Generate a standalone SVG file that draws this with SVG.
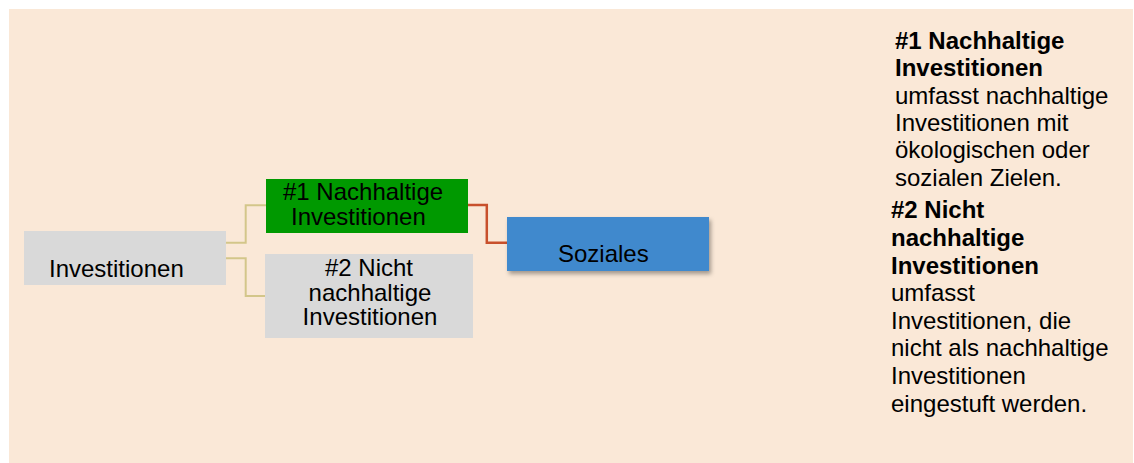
<svg xmlns="http://www.w3.org/2000/svg" width="1134" height="463" viewBox="0 0 1134 463">
<defs>
<style>
.t{font-family:"Liberation Sans",Arial,sans-serif;font-size:24px;fill:#000}
.b{font-weight:bold}
.gray{fill:#D9D9D9}
.tan{fill:none;stroke:#D3C68A;stroke-width:2}
.red{fill:none;stroke:#C8502C;stroke-width:2.5}
</style>
<filter id="sh" x="-10%" y="-20%" width="130%" height="160%">
<feDropShadow dx="2" dy="3" stdDeviation="2" flood-color="#000" flood-opacity="0.35"/>
</filter>
</defs>
<rect x="9" y="9" width="1124" height="454" fill="#FAE8D7"/>
<g id="connectors">
<polyline class="tan" points="226,242.7 245.7,242.7 245.7,205.3 266,205.3"/>
<polyline class="tan" points="226,258.3 245.7,258.3 245.7,296 265,296"/>
<polyline class="red" points="468,205 486.8,205 486.8,242.8 507,242.8"/>
</g>
<g id="node-investitionen">
<rect class="gray" x="24" y="231" width="202" height="54"/>
<text class="t" x="49" y="277">Investitionen</text>
</g>
<g id="node-nachhaltig">
<rect x="266" y="179" width="202" height="54" fill="#009900"/>
<text class="t" x="283" y="200">#1 Nachhaltige</text>
<text class="t" x="291" y="225">Investitionen</text>
</g>
<g id="node-nicht-nachhaltig">
<rect class="gray" x="265" y="254" width="208" height="84"/>
<text class="t" x="369" y="276" text-anchor="middle">#2 Nicht</text>
<text class="t" x="370" y="300.7" text-anchor="middle">nachhaltige</text>
<text class="t" x="370" y="325.3" text-anchor="middle">Investitionen</text>
</g>
<g id="node-soziales">
<rect x="507" y="217" width="202" height="54" fill="#3F89CD" filter="url(#sh)"/>
<text class="t" x="558" y="261.7">Soziales</text>
</g>
<g id="legend">
<text class="t b" x="895" y="49">#1 Nachhaltige</text>
<text class="t b" x="895" y="76.3">Investitionen</text>
<text class="t" x="895" y="103.6">umfasst nachhaltige</text>
<text class="t" x="895" y="130.9">Investitionen mit</text>
<text class="t" x="895" y="158.2">ökologischen oder</text>
<text class="t" x="895" y="185.5">sozialen Zielen.</text>
<text class="t b" x="891" y="218.3">#2 Nicht</text>
<text class="t b" x="891" y="245.9">nachhaltige</text>
<text class="t b" x="891" y="273.5">Investitionen</text>
<text class="t" x="891" y="301.1">umfasst</text>
<text class="t" x="891" y="328.7">Investitionen, die</text>
<text class="t" x="891" y="356.3">nicht als nachhaltige</text>
<text class="t" x="891" y="383.9">Investitionen</text>
<text class="t" x="891" y="411.5">eingestuft werden.</text>
</g>
</svg>
